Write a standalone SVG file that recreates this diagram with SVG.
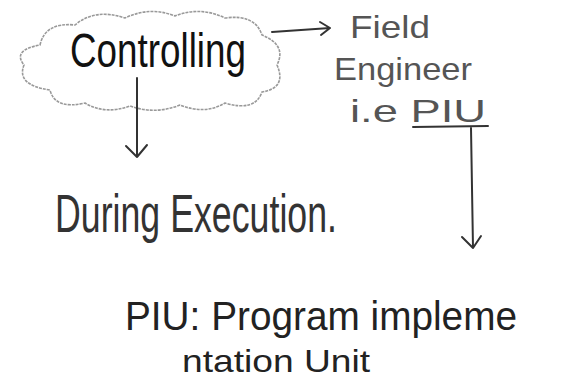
<svg xmlns="http://www.w3.org/2000/svg" width="565" height="383" viewBox="0 0 565 383">
<style>
.ink{fill:#111;font-family:"Liberation Sans","DejaVu Sans",sans-serif;}
.pale{fill:#555;font-family:"Liberation Sans","DejaVu Sans",sans-serif;}
.line{fill:none;stroke:#333;stroke-width:2;stroke-linecap:round;stroke-linejoin:round;}
.cloud{fill:#fff;stroke:#999;stroke-width:1.6;stroke-dasharray:3 1;}
</style>
<rect width="565" height="383" fill="#fff"/>
<g id="controlling">
<path class="cloud" d="M40,45 Q45,22 75,25 Q95,8 125,18 Q150,6 175,16 Q200,6 225,18 Q255,14 262,35 Q287,45 277,65 Q287,88 262,92 Q255,112 225,103 Q205,115 180,105 Q155,115 130,106 Q105,115 85,103 Q55,110 50,90 Q16,85 24,65 Q12,50 40,45 Z"/>
<text class="ink" x="70" y="67" font-size="48" textLength="176" lengthAdjust="spacingAndGlyphs">Controlling</text>
</g>
<g id="field-engineer">
<text class="pale" x="350" y="38" font-size="32" textLength="80" lengthAdjust="spacingAndGlyphs">Field</text>
<text class="pale" x="334" y="80" font-size="32" textLength="138" lengthAdjust="spacingAndGlyphs">Engineer</text>
<text class="pale" x="350" y="122" font-size="32" textLength="136" lengthAdjust="spacingAndGlyphs">i.e PIU</text>
<line class="line" x1="413" y1="127" x2="488" y2="126" stroke="#555"/>
</g>
<g id="during-execution">
<text class="pale" x="55" y="232" font-size="54" textLength="282" lengthAdjust="spacingAndGlyphs" style="fill:#333">During Execution.</text>
</g>
<g id="piu-definition">
<text class="ink" x="125" y="330" font-size="40" textLength="392" lengthAdjust="spacingAndGlyphs" style="fill:#222">PIU: Program impleme</text>
<text class="ink" x="182" y="372" font-size="32" textLength="188" lengthAdjust="spacingAndGlyphs" style="fill:#222">ntation Unit</text>
</g>
<g id="connectors">
<path class="line" d="M272,32 L330,28 M320,22 L330,28 L321,35"/>
<path class="line" d="M137,78 L137,157 M126,146 L137,157 L147,145"/>
<path class="line" d="M471,128 L473,248 M462,237 L473,248 L481,236"/>
</g>
</svg>
